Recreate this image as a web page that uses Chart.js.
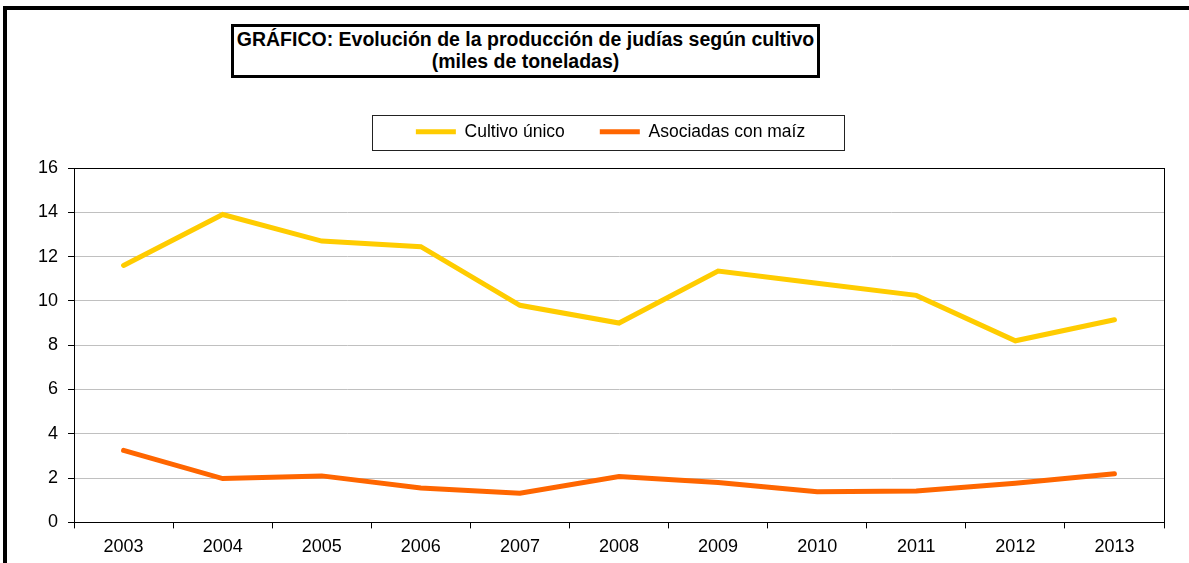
<!DOCTYPE html>
<html>
<head>
<meta charset="utf-8">
<script src="https://cdn.jsdelivr.net/npm/chart.js@4.4.1/dist/chart.umd.min.js"></script>
<style>
  html, body { margin: 0; padding: 0; background: #fff; }
  #wrap { position: relative; width: 1189px; height: 563px; overflow: hidden; }
  #frame { position: absolute; left: 3px; top: 6px; width: 1300px; height: 700px;
           border-left: 4px solid #000; border-top: 4px solid #000; pointer-events: none; }
  #title { position: absolute; left: 231px; top: 24px; width: 583px; height: 47px;
           border: 3px solid #000; font-family: "Liberation Sans", Arial, sans-serif;
           font-weight: bold; font-size: 19.5px; line-height: 22px; text-align: center;
           color: #000; padding-top: 1px; box-sizing: content-box; background: #fff; white-space: nowrap; }
  canvas { position: absolute; left: 0; top: 0; }
</style>
</head>
<body>
<div id="wrap">
  <canvas id="c" width="1189" height="563"></canvas>
  <div id="frame"></div>
  <div id="title">GRÁFICO: Evolución de la producción de judías según cultivo<br>(miles de toneladas)</div>
</div>
<script>
const years = ["2003","2004","2005","2006","2007","2008","2009","2010","2011","2012","2013"];
const cultivoUnico = [11.6, 13.9, 12.7, 12.45, 9.8, 9.0, 11.35, 10.8, 10.25, 8.2, 9.15];
const asociadasMaiz = [3.25, 1.98, 2.1, 1.55, 1.32, 2.07, 1.8, 1.38, 1.42, 1.77, 2.2];
const seriesNames = ["Cultivo único", "Asociadas con maíz"];
const yTicks = { min: 0, max: 16, step: 2 };

const FONT = "'Liberation Sans', Arial, sans-serif";

const boxPlugin = {
  id: 'boxes',
  afterLayout(chart) {
    // shift the legend block slightly left of the plot-area centre, as in the original
    const lg = chart.legend;
    const a = chart.chartArea;
    if (lg) {
      const want = (a.left + a.right) / 2 - 8.5;
      const dx = want - (lg.left + lg.right) / 2;
      lg.left += dx; lg.right += dx;
    }
  },
  afterDraw(chart) {
    const ctx = chart.ctx;
    const a = chart.chartArea;
    ctx.save();
    ctx.strokeStyle = '#000';
    ctx.lineWidth = 1;
    ctx.strokeRect(Math.round(a.left) + 0.5, Math.round(a.top) + 0.5,
                   Math.round(a.right - a.left), Math.round(a.bottom - a.top));
    const lg = chart.legend;
    if (lg && lg.legendHitBoxes && lg.legendHitBoxes.length) {
      const hb = lg.legendHitBoxes;
      const l = hb[0].left - 44;
      const last = hb[hb.length - 1];
      const r = last.left + last.width + 39;
      const cy = hb[0].top + hb[0].height / 2;
      ctx.strokeStyle = '#222';
      ctx.strokeRect(Math.round(l) + 0.5, Math.round(cy - 17) + 0.5, Math.round(r - l), 35);
    }
    ctx.restore();
  }
};

new Chart(document.getElementById('c'), {
  type: 'line',
  data: {
    labels: years,
    datasets: [
      { label: seriesNames[0], data: cultivoUnico, borderColor: '#FFCC00', backgroundColor: '#FFCC00',
        borderWidth: 5, pointRadius: 0, tension: 0, borderCapStyle: 'round', borderJoinStyle: 'miter', fill: false },
      { label: seriesNames[1], data: asociadasMaiz, borderColor: '#FF6600', backgroundColor: '#FF6600',
        borderWidth: 5, pointRadius: 0, tension: 0, borderCapStyle: 'round', borderJoinStyle: 'miter', fill: false }
    ]
  },
  options: {
    responsive: false,
    animation: false,
    devicePixelRatio: 1,
    layout: { padding: { left: 28, right: 25, top: 88, bottom: -3 } },
    plugins: {
      title: { display: false },
      subtitle: { display: true, text: '', weight: 500, font: { size: 10, lineHeight: 1 }, padding: { top: 7.5, bottom: 0 } },
      legend: {
        display: true,
        position: 'top',
        labels: {
          usePointStyle: true,
          pointStyle: 'line',
          pointStyleWidth: 40,
          padding: 35,
          color: '#000',
          font: { family: FONT, size: 17.5 }
        }
      },
      tooltip: { enabled: false }
    },
    scales: {
      x: {
        type: 'category',
        offset: true,
        grid: { display: true, offset: true, drawOnChartArea: false, drawTicks: true, tickLength: 6, tickColor: '#000', color: '#000' },
        border: { display: true, color: '#000', width: 1 },
        ticks: { color: '#000', font: { family: FONT, size: 18 }, padding: 8, maxRotation: 0, autoSkip: false }
      },
      y: {
        min: yTicks.min, max: yTicks.max,
        grid: { color: '#C0C0C0', lineWidth: 1, drawTicks: true, tickLength: 6, tickColor: '#000' },
        border: { display: true, color: '#000', width: 1 },
        ticks: { stepSize: yTicks.step, color: '#000', font: { family: FONT, size: 18 }, padding: 10 }
      }
    }
  },
  plugins: [boxPlugin]
});
</script>
</body>
</html>
